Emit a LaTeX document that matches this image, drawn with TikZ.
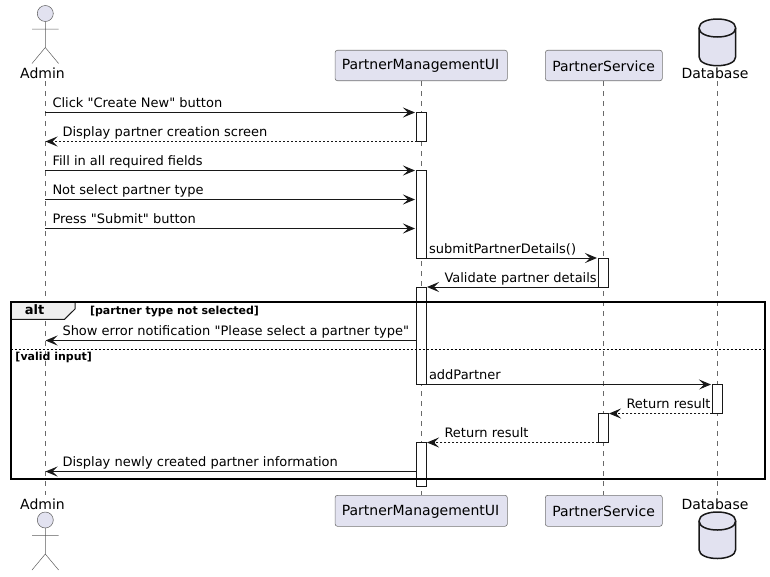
\documentclass[tikz,border=0pt]{standalone}
\usepackage{fontspec}
\setmainfont[Ligatures=TeXOff]{DejaVu Sans}
\usetikzlibrary{arrows.meta}
\definecolor{pbody}{HTML}{E2E2F0}
\definecolor{pline}{HTML}{181818}
\definecolor{ptab}{HTML}{EEEEEE}
\tikzset{
  x=1pt,y=-1pt,
  every node/.style={inner sep=0pt,outer sep=0pt,text=black},
  life/.style={draw=pline!65,line width=.5pt,dash pattern=on 5pt off 5pt},
  partbox/.style={draw=pline!60,fill=pbody,rounded corners=2.5pt,line width=.6pt},
  lbl/.style={font=\fontsize{14}{16}\selectfont},
  msgtxt/.style={font=\fontsize{13}{15}\selectfont,anchor=base west},
  msg/.style={draw=pline,line width=1pt,-{Stealth[length=12pt,width=10pt,inset=5pt]}},
  ret/.style={msg,dash pattern=on 2pt off 2pt},
  bar/.style={draw=pline,fill=white,line width=1pt},
  guard/.style={font=\fontsize{11}{13}\selectfont\bfseries,anchor=base west},
  actor/.style={draw=pline!70,line width=.5pt},
}
% \msgline{name}{x from}{x to}{y}{style}{label x}{label}
\newcommand{\msgline}[7]{%
  \coordinate (#1a) at (#2,#4);
  \coordinate (#1b) at (#3,#4);
  \draw[#5] (#1a) -- (#1b);
  \node[msgtxt] (#1t) at (#6,#4-5) {#7};
}
\newcommand{\actorfig}[2]{%
  \draw[actor,fill=pbody] (#1,#2) circle (8);
  \draw[actor] (#1,#2+8) -- (#1,#2+34)
     (#1-13.3,#2+15.5) -- (#1+13.3,#2+15.5)
     (#1-13.3,#2+50) -- (#1,#2+34) -- (#1+13.3,#2+50);
}
\newcommand{\dbfig}[2]{%
  \draw[pline,fill=pbody,line width=1.5pt] (699,#1+9)
    .. controls (699,#1-3) and (735.7,#1-3) .. (735.7,#1+9)
    -- (735.7,#2-9)
    .. controls (735.7,#2+3) and (699,#2+3) .. (699,#2-9) -- cycle;
  \draw[pline,line width=1.5pt] (699,#1+9)
    .. controls (699,#1+21) and (735.7,#1+21) .. (735.7,#1+9);
}
\begin{document}
\begin{tikzpicture}
\useasboundingbox (0,0) rectangle (770,576);
% lifelines
\coordinate (admT) at (45.3,81);   \coordinate (admB) at (45.3,495);
\coordinate (uiT)  at (421.5,81);  \coordinate (uiB)  at (421.5,495);
\coordinate (svcT) at (603.5,81);  \coordinate (svcB) at (603.5,495);
\coordinate (dbT)  at (717.3,81);  \coordinate (dbB)  at (717.3,495);
\draw[life] (admT) -- (admB);
\draw[life] (uiT) -- (uiB);
\draw[life] (svcT) -- (svcB);
\draw[life] (dbT) -- (dbB);
% participants, top
\actorfig{45.3}{13.5}
\node[lbl] (adminTop) at (42.5,73) {Admin};
\node[partbox,minimum width=172.3pt,minimum height=30.5pt] (uiTop) at (421.2,65.5) {};
\node[lbl] at (420.5,66) {PartnerManagementUI};
\node[partbox,minimum width=117pt,minimum height=30.5pt] (svcTop) at (603.8,65.5) {};
\node[lbl] at (603.6,66) {PartnerService};
\dbfig{19}{65.7}
\node[lbl] (dbTop) at (715,73) {Database};
% participants, bottom
\actorfig{45.3}{520}
\node[lbl] (adminBot) at (42.5,504) {Admin};
\node[partbox,minimum width=172.3pt,minimum height=31pt] (uiBot) at (421.2,510.8) {};
\node[lbl] at (420.5,511.5) {PartnerManagementUI};
\node[partbox,minimum width=117pt,minimum height=31pt] (svcBot) at (603.8,510.8) {};
\node[lbl] at (603.6,511.5) {PartnerService};
\dbfig{512}{558.5}
\node[lbl] (dbBot) at (715,504) {Database};
% activations
\draw[bar] (416.5,112.5) rectangle (426.7,141.5);
\draw[bar] (416.5,170.5) rectangle (426.7,258);
\draw[bar] (416.5,287) rectangle (426.7,384.5);
\draw[bar] (416.5,442.5) rectangle (426.7,486);
\draw[bar] (598.3,258) rectangle (608.7,287);
\draw[bar] (598.3,413.5) rectangle (608.7,442.5);
\draw[bar] (712.3,384.5) rectangle (722.7,413.5);
% alt frame
\draw[pline,fill=ptab,line width=1pt] (10.5,302) -- (75,302) -- (75,309) -- (64.5,319.3) -- (10.5,319.3) -- cycle;
\draw[black,line width=2pt] (10.5,302) rectangle (765,479.3);
\draw[black,line width=1pt,dash pattern=on 2pt off 2pt] (10.5,349) -- (765,349);
\node[font=\fontsize{13}{15}\selectfont\bfseries] (alt) at (34.5,310) {alt};
\node[guard] (g1) at (90,314) {[partner type not selected]};
\node[guard] (g2) at (15.5,360) {[valid input]};
% messages
\msgline{m1}{45.3}{415}{112.5}{msg}{52.5}{Click "Create New" button}
\msgline{m2}{416.5}{45.5}{141.5}{ret}{62.5}{Display partner creation screen}
\msgline{m3}{45.3}{415}{170.5}{msg}{52.5}{Fill in all required fields}
\msgline{m4}{45.3}{415}{199.5}{msg}{52.5}{Not select partner type}
\msgline{m5}{45.3}{415}{228.5}{msg}{52.5}{Press "Submit" button}
\msgline{m6}{426.7}{597}{258}{msg}{429}{submitPartnerDetails()}
\msgline{m7}{598.3}{427}{287}{msg}{444.5}{Validate partner details}
\msgline{m8}{416.5}{45.5}{340.5}{msg}{62.5}{Show error notification "Please select a partner type"}
\msgline{m9}{426.7}{711}{384.5}{msg}{429}{addPartner}
\msgline{m10}{712.3}{609}{413.5}{ret}{626.5}{Return result}
\msgline{m11}{598.3}{427}{442.5}{ret}{444.5}{Return result}
\msgline{m12}{416.5}{45.5}{471.5}{msg}{62.5}{Display newly created partner information}
\end{tikzpicture}
\end{document}
